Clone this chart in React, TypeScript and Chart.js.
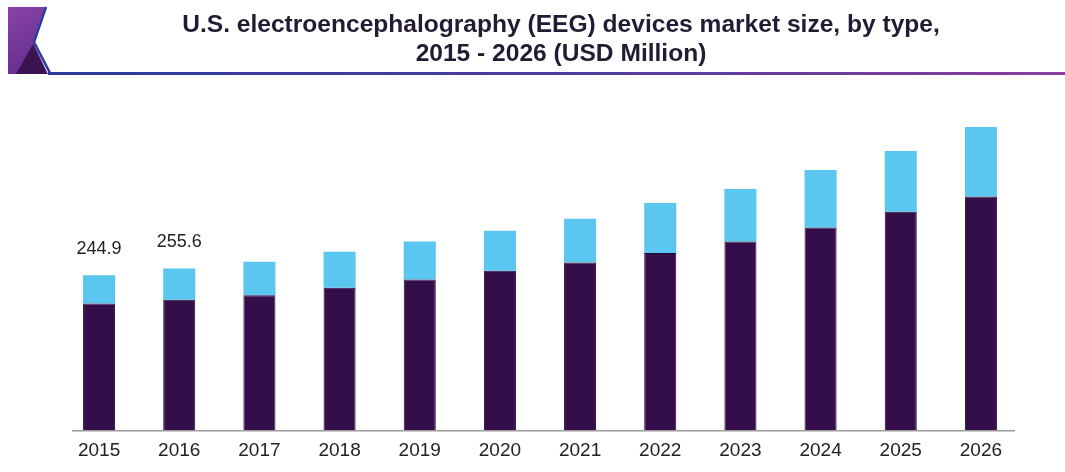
import React, { useEffect, useRef } from "react";
import { Chart, registerables } from "chart.js";

Chart.register(...registerables);

const years = ["2015", "2016", "2017", "2018", "2019", "2020", "2021", "2022", "2023", "2024", "2025", "2026"];
const baseSeries = [200, 206, 213, 225, 238, 252, 265, 280, 298, 320, 345, 369];
const topSeries = [44.9, 49.6, 53, 57, 60, 63, 69, 79, 83, 91, 96, 110];
const labeledIndices = [0, 1];
const titleLines = ["U.S. electroencephalography (EEG) devices market size, by type,", "2015 - 2026 (USD Million)"];

const headerPlugin = {
  id: "header",
  beforeDraw(chart: any) {
    const ctx = chart.ctx as CanvasRenderingContext2D;
    ctx.save();
    ctx.fillStyle = "#ffffff";
    ctx.fillRect(0, 0, chart.width, chart.height);
    // logo
    const g = ctx.createLinearGradient(8, 7, 45, 75);
    g.addColorStop(0, "#8a42a8");
    g.addColorStop(1, "#5e2c8c");
    ctx.fillStyle = g;
    ctx.beginPath();
    ctx.moveTo(8, 7);
    ctx.lineTo(45, 7);
    ctx.lineTo(33, 42);
    ctx.lineTo(48, 74);
    ctx.lineTo(8, 74);
    ctx.closePath();
    ctx.fill();
    ctx.fillStyle = "#3a1450";
    ctx.beginPath();
    ctx.moveTo(16, 74);
    ctx.lineTo(33, 44);
    ctx.lineTo(47, 74);
    ctx.closePath();
    ctx.fill();
    ctx.strokeStyle = "#2a3b9c";
    ctx.lineWidth = 2.5;
    ctx.beginPath();
    ctx.moveTo(46, 7);
    ctx.lineTo(34, 42);
    ctx.lineTo(50, 73);
    ctx.stroke();
    // rule line
    const lg = ctx.createLinearGradient(48, 0, 1065, 0);
    lg.addColorStop(0, "#2a3b9c");
    lg.addColorStop(0.5, "#4b3c9e");
    lg.addColorStop(1, "#8a3e9c");
    ctx.fillStyle = lg;
    ctx.fillRect(48, 72, 1017, 3);
    // title
    ctx.fillStyle = "#231a33";
    ctx.textAlign = "center";
    ctx.textBaseline = "alphabetic";
    let size = 22;
    ctx.font = `bold ${size}px "Liberation Sans", Arial, sans-serif`;
    const w = ctx.measureText(titleLines[0]).width;
    size = size * (758 / w);
    ctx.font = `bold ${size}px "Liberation Sans", Arial, sans-serif`;
    ctx.fillText(titleLines[0], 561, 32);
    ctx.fillText(titleLines[1], 561, 61);
    ctx.restore();
  },
  afterDatasetsDraw(chart: any) {
    const ctx = chart.ctx as CanvasRenderingContext2D;
    const area = chart.chartArea;
    ctx.save();
    ctx.strokeStyle = "#9a9a9a";
    ctx.lineWidth = 1.5;
    ctx.beginPath();
    ctx.moveTo(72, area.bottom + 0.5);
    ctx.lineTo(1015, area.bottom + 0.5);
    ctx.stroke();
    const meta = chart.getDatasetMeta(1);
    ctx.fillStyle = "#222222";
    ctx.font = `18px "Liberation Sans", Arial, sans-serif`;
    ctx.textAlign = "center";
    ctx.textBaseline = "middle";
    labeledIndices.forEach((i) => {
      const el = meta.data[i];
      const total = baseSeries[i] + topSeries[i];
      ctx.fillText(total.toFixed(1), el.x, el.y - 26);
    });
    ctx.restore();
  },
};

export default function App() {
  const ref = useRef<HTMLCanvasElement | null>(null);
  useEffect(() => {
    if (!ref.current) return;
    const chart = new Chart(ref.current, {
      type: "bar",
      data: {
        labels: years,
        datasets: [
          {
            data: baseSeries,
            backgroundColor: "#330e4a",
            borderColor: "#24083a",
            borderWidth: 1,
            barPercentage: 0.4,
            categoryPercentage: 1,
          },
          {
            data: topSeries,
            backgroundColor: "#5bc6f0",
            borderWidth: 0,
            barPercentage: 0.4,
            categoryPercentage: 1,
          },
        ],
      },
      plugins: [headerPlugin],
      options: {
        animation: false,
        responsive: false,
        maintainAspectRatio: false,
        layout: { padding: { left: 59, right: 44, top: 101, bottom: 1 } },
        plugins: { legend: { display: false }, tooltip: { enabled: false }, title: { display: false } },
        scales: {
          x: {
            stacked: true,
            grid: { display: false, drawTicks: false },
            border: { display: false },
            ticks: {
              color: "#222222",
              padding: 9,
              font: { size: 19, family: '"Liberation Sans", Arial, sans-serif' },
            },
          },
          y: { stacked: true, display: false, min: 0, max: 520 },
        },
      },
    });
    return () => chart.destroy();
  }, []);
  return (
    <div style={{ position: "fixed", left: 0, top: 0, width: 1065, height: 472, background: "#fff" }}>
      <canvas ref={ref} width={1065} height={472} style={{ width: 1065, height: 472 }} />
    </div>
  );
}
